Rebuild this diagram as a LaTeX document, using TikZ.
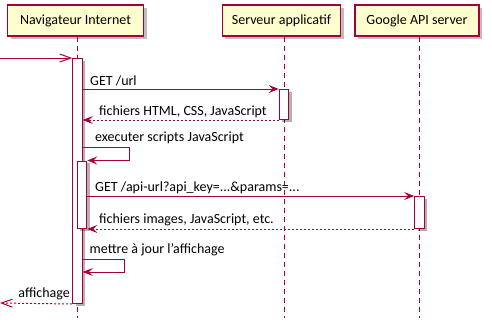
\documentclass[tikz,border=0pt]{standalone}
\usepackage{fontspec}
\setmainfont{Carlito}
\usetikzlibrary{arrows.meta,shadows}
\definecolor{umlred}{HTML}{A80036}
\definecolor{umlfill}{HTML}{FEFECE}
\tikzset{
  participant/.style={draw=umlred, line width=1.2pt, fill=umlfill, minimum height=31pt,
    inner sep=0pt, font=\fontsize{14}{16}\selectfont,
    drop shadow={shadow xshift=3pt, shadow yshift=-3pt, fill=black, opacity=0.25}},
  actbar/.style={draw=umlred, line width=1pt, fill=white, minimum width=9.6pt,
    inner sep=0pt, anchor=north,
    drop shadow={shadow xshift=3pt, shadow yshift=-2pt, fill=black, opacity=0.3}},
  lifeline/.style={draw=umlred, line width=1pt, dash pattern=on 5pt off 4pt},
  msg/.style={draw=umlred, line width=1pt,
    -{Stealth[length=10pt, width=8pt, inset=4pt, fill=umlred]}},
  reply/.style={msg, dash pattern=on 2pt off 2pt},
  openmsg/.style={draw=umlred, line width=1pt, -{Straight Barb[length=11pt, width=8pt, line width=1pt]}},
  openreply/.style={openmsg, dash pattern=on 2pt off 2pt},
  lbl/.style={font=\fontsize{14}{16}\selectfont, inner sep=0pt},
}
\begin{document}
\begin{tikzpicture}[x=1pt, y=-1pt]
\useasboundingbox (0,0) rectangle (492,327);

% participants
\node[participant, minimum width=136pt] (nav) at (75.5,20.5) {Navigateur Internet};
\node[participant, minimum width=118.5pt] (srv) at (281.5,20.5) {Serveur applicatif};
\node[participant, minimum width=124pt] (gapi) at (417,20.5) {Google API server};

% lifelines
\coordinate (navend) at (77.5,318);
\coordinate (srvend) at (284,318);
\coordinate (gapiend) at (419.5,318);
\draw[lifeline] (nav.south -| navend) -- (navend);
\draw[lifeline] (srv.south -| srvend) -- (srvend);
\draw[lifeline] (gapi.south -| gapiend) -- (gapiend);

% activation bars
\node[actbar, minimum height=245pt] (navact) at (77.5,58) {};
\node[actbar, minimum height=30pt] (srvact) at (284,89) {};
\node[actbar, minimum height=67.5pt] (navact2) at (82,160.5) {};
\node[actbar, minimum height=32pt] (gapiact) at (419.5,196) {};

% incoming request
\coordinate (start) at (0,58);
\draw[openmsg] (start) -- (navact.north west);

% GET /url
\draw[msg] (navact.east |- 0,89) -- (srvact.north west);
\node[lbl, anchor=base west] (l1) at (90,85) {GET /url};

% HTML reply
\draw[reply] (srvact.south west) -- (navact.east |- srvact.south);
\node[lbl, anchor=base west] (l2) at (99,115.5) {fichiers HTML, CSS, JavaScript};

% run scripts (self call)
\coordinate (s1) at (129,147.5);
\draw[msg] (navact.east |- s1) -- (s1) -- (s1 |- navact2.north) -- (navact2.north east);
\node[lbl, anchor=base west] (l3) at (95,141.5) {executer scripts JavaScript};

% API call
\draw[msg] (navact2.east |- gapiact.north) -- (gapiact.north west);
\node[lbl, anchor=base west] (l4) at (95,191.5) {GET /api-url?api\_key=...\&params=...};

% API reply
\draw[reply] (gapiact.south west) -- (navact2.south east);
\node[lbl, anchor=base west] (l5) at (99,223) {fichiers images, JavaScript, etc.};

% update display (self call)
\coordinate (s2) at (124.5,259.5);
\coordinate (s2b) at (124.5,272);
\draw[msg] (navact.east |- s2) -- (s2) -- (s2b) -- (navact.east |- s2b);
\node[lbl, anchor=base west] (l6) at (89.5,253.5) {mettre à jour l'affichage};

% final reply
\coordinate (stop) at (0,303);
\draw[openreply] (navact.south west) -- (stop);
\node[lbl, anchor=base east] (l7) at (70,297.5) {affichage};
\end{tikzpicture}
\end{document}
